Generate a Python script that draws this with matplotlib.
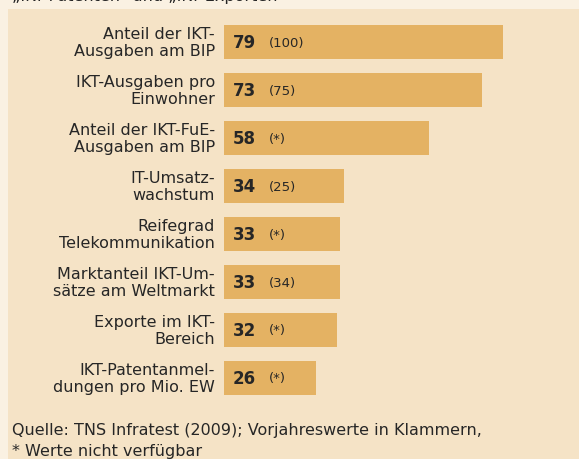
import matplotlib
matplotlib.use("Agg")
import matplotlib.pyplot as plt
from matplotlib.patches import Rectangle

# data
labels = [
    "Anteil der IKT-\nAusgaben am BIP",
    "IKT-Ausgaben pro\nEinwohner",
    "Anteil der IKT-FuE-\nAusgaben am BIP",
    "IT-Umsatz-\nwachstum",
    "Reifegrad\nTelekommunikation",
    "Marktanteil IKT-Um-\nsätze am Weltmarkt",
    "Exporte im IKT-\nBereich",
    "IKT-Patentanmel-\ndungen pro Mio. EW",
]
values = [79, 73, 58, 34, 33, 33, 32, 26]
prev_values = ["(100)", "(75)", "(*)", "(25)", "(*)", "(34)", "(*)", "(*)"]
title = "„IKT-Patenten“ und „IKT-Exporten“"
source = "Quelle: TNS Infratest (2009); Vorjahreswerte in Klammern,\n* Werte nicht verfügbar"

W, H = 579, 460
DPI = 100
outer_bg = "#faf1e2"
panel_bg = "#f5e3c6"
bar_col = "#e4b263"
txt_col = "#262626"
font = "DejaVu Sans"

fig = plt.figure(figsize=(W / DPI, H / DPI), dpi=DPI, facecolor=outer_bg)

# panel behind the chart
fig.patches.append(Rectangle((8 / W, 0), 1, 1 - 10 / H, transform=fig.transFigure,
                             facecolor=panel_bg, edgecolor="none", zorder=-1))

# bar axes in pixel layout: bars start at x=224, 3.53 px per unit
x0, x1 = 224, 579
y_top, y_bot = 19, 403
ax = fig.add_axes([x0 / W, 1 - y_bot / H, (x1 - x0) / W, (y_bot - y_top) / H])
ax.set_facecolor("none")
ax.set_xlim(0, (x1 - x0) / 3.53)
ax.set_ylim(len(values) - 0.5, -0.5)
ax.axis("off")

ypos = list(range(len(values)))
ax.barh(ypos, values, height=34 / 48, color=bar_col, edgecolor="none")

px = 1 / 3.53
for y, lab, v, pv in zip(ypos, labels, values, prev_values):
    ax.text(-9 * px, y, lab, ha="right", va="center", fontsize=11.5, family=font,
            color=txt_col, linespacing=1.12, clip_on=False)
    ax.text(9 * px, y, str(v), ha="left", va="center", fontsize=12, family=font,
            fontweight="bold", color=txt_col)
    ax.text(45 * px, y, pv, ha="left", va="center", fontsize=9.5, family=font,
            color=txt_col)

fig.text(12 / W, 1 - 1 / H, title, ha="left", va="baseline", fontsize=11.5,
         family=font, color=txt_col)
fig.text(12 / W, 1 - 441 / H, source, ha="left", va="center", fontsize=11.5,
         family=font, color=txt_col, linespacing=1.45)

fig.savefig("out.png", dpi=DPI, facecolor=outer_bg)
